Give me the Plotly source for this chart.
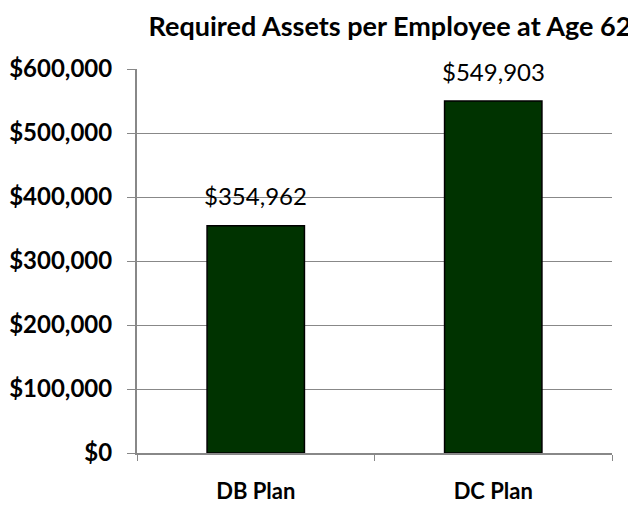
import plotly.graph_objects as go

categories = ["DB Plan", "DC Plan"]
values = [354962, 549903]
tick_vals = [0, 100000, 200000, 300000, 400000, 500000, 600000]
tick_text = ["$0", "$100,000", "$200,000", "$300,000", "$400,000", "$500,000", "$600,000"]
title_text = "Required Assets per Employee at Age 62"

FONT = "Lato"
# page body has an 8px default margin; size the figure so it fits the window
W, H, OFF = 628, 500, 8

fig = go.Figure()
fig.add_trace(go.Bar(
    x=categories, y=values, width=0.41,
    marker=dict(color="#003300", line=dict(color="#000000", width=1.5)),
    hoverinfo="skip",
))
for c, v in zip(categories, values):
    fig.add_annotation(x=c, y=v, text="${:,}".format(v), showarrow=False,
                       yshift=30, font=dict(family=FONT, size=24, color="#000000"))

fig.update_layout(
    width=W, height=H,
    margin=dict(l=137 - OFF, r=24, t=69 - OFF, b=55, autoexpand=False),
    paper_bgcolor="white", plot_bgcolor="white",
    showlegend=False,
    title=dict(text="<b>" + title_text + "</b>", x=(390 - OFF) / W, xanchor="center",
               y=1 - (27 - OFF) / H, yanchor="middle", automargin=False,
               font=dict(family=FONT, size=27, color="#000000")),
)
fig.update_yaxes(range=[0, 600000], tickvals=tick_vals, ticktext=tick_text,
                 automargin=False,
                 showgrid=True, gridcolor="#888888", gridwidth=1,
                 showline=True, linecolor="#888888", linewidth=2,
                 ticks="outside", ticklen=8, tickcolor="#888888",
                 ticklabelstandoff=10,
                 tickfont=dict(family=FONT, size=24, color="#000000", weight="bold"),
                 zeroline=False)
fig.update_xaxes(automargin=False, showline=True, linecolor="#888888", linewidth=2,
                 ticks="outside", tickson="boundaries", ticklen=6, tickcolor="#888888",
                 ticklabelstandoff=18,
                 tickfont=dict(family=FONT, size=22, color="#000000", weight="bold"),
                 showgrid=False)
fig.write_html("out.html")
